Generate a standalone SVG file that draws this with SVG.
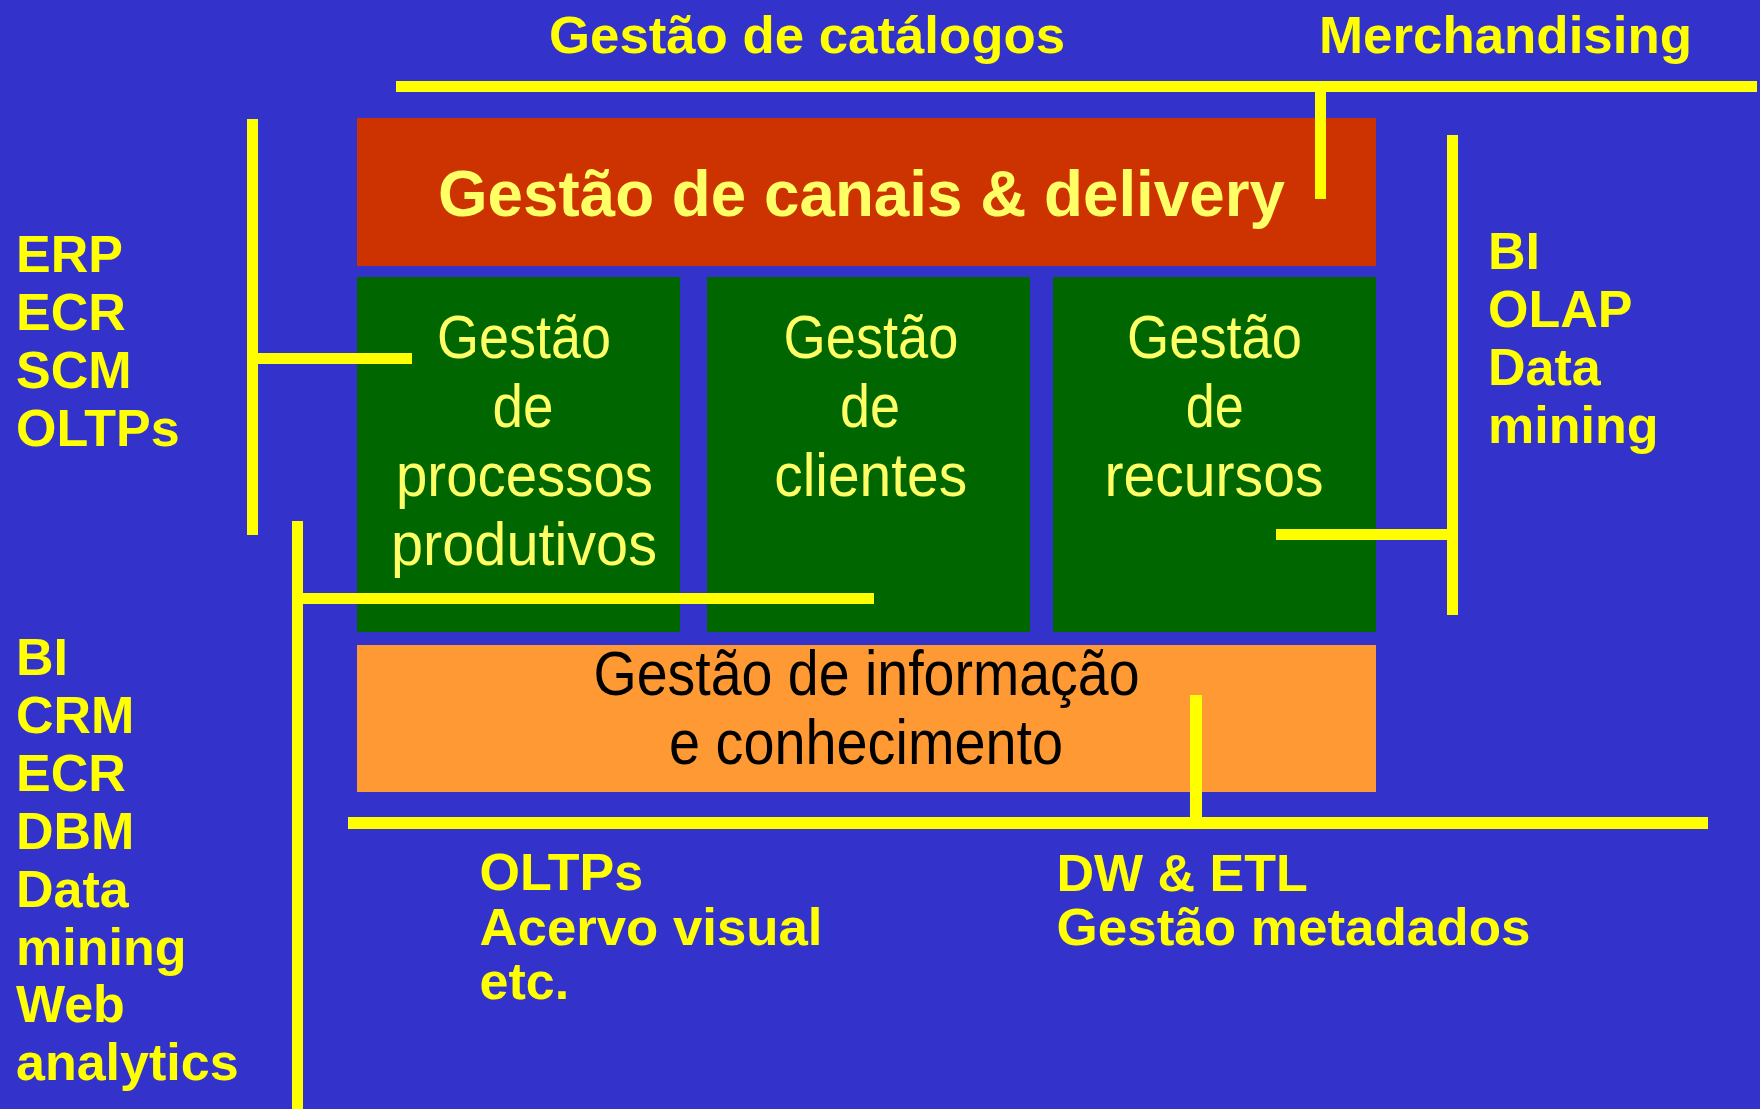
<svg xmlns="http://www.w3.org/2000/svg" width="1760" height="1109" viewBox="0 0 1760 1109">
<style>
.lbl{font-family:"Liberation Sans",Arial,sans-serif;font-weight:bold;font-size:52px;fill:#FFFF00}
.box{font-family:"Liberation Sans",Arial,sans-serif;font-size:62px;fill:#FFFF66;text-anchor:middle}
.info{font-family:"Liberation Sans",Arial,sans-serif;font-size:63px;fill:#000000;text-anchor:middle}
.title{font-family:"Liberation Sans",Arial,sans-serif;font-weight:bold;font-size:64px;fill:#FFFF66}
.conn{stroke:#FFFF00;stroke-width:11;fill:none;stroke-linecap:butt}
</style>
<rect x="0" y="0" width="1760" height="1109" fill="#3333CC"/>

<g id="canais">
<rect x="357" y="118" width="1019" height="148" fill="#CC3300"/>
<text class="title" x="438" y="216" textLength="847" lengthAdjust="spacingAndGlyphs">Gestão de canais &amp; delivery</text>
</g>

<g id="processos">
<rect x="357" y="277" width="323" height="355" fill="#006600"/>
<text class="box" x="524" y="358" textLength="174" lengthAdjust="spacingAndGlyphs">Gestão</text>
<text class="box" x="523" y="427" textLength="61" lengthAdjust="spacingAndGlyphs">de</text>
<text class="box" x="524.5" y="496" textLength="257" lengthAdjust="spacingAndGlyphs">processos</text>
<text class="box" x="524" y="565" textLength="266" lengthAdjust="spacingAndGlyphs">produtivos</text>
</g>

<g id="clientes">
<rect x="707" y="277" width="323" height="355" fill="#006600"/>
<text class="box" x="871" y="358" textLength="175" lengthAdjust="spacingAndGlyphs">Gestão</text>
<text class="box" x="870" y="427" textLength="60" lengthAdjust="spacingAndGlyphs">de</text>
<text class="box" x="870.7" y="496" textLength="193" lengthAdjust="spacingAndGlyphs">clientes</text>
</g>

<g id="recursos">
<rect x="1053" y="277" width="323" height="355" fill="#006600"/>
<text class="box" x="1214.5" y="358" textLength="175" lengthAdjust="spacingAndGlyphs">Gestão</text>
<text class="box" x="1214.7" y="427" textLength="58" lengthAdjust="spacingAndGlyphs">de</text>
<text class="box" x="1214" y="496" textLength="219" lengthAdjust="spacingAndGlyphs">recursos</text>
</g>

<g id="informacao">
<rect x="357" y="645" width="1019" height="147" fill="#FF9933"/>
<text class="info" x="866.5" y="695" textLength="546" lengthAdjust="spacingAndGlyphs">Gestão de informação</text>
<text class="info" x="866" y="763.5" textLength="394" lengthAdjust="spacingAndGlyphs">e conhecimento</text>
</g>

<g id="catalogos">
<text class="lbl" x="549" y="52.5" font-size="53" textLength="516" lengthAdjust="spacingAndGlyphs">Gestão de catálogos</text>
</g>
<g id="merchandising">
<text class="lbl" x="1319" y="52.5" font-size="53" textLength="373" lengthAdjust="spacingAndGlyphs">Merchandising</text>
</g>

<g id="erp">
<text class="lbl" x="16" y="272">ERP</text>
<text class="lbl" x="16" y="330">ECR</text>
<text class="lbl" x="16" y="388">SCM</text>
<text class="lbl" x="16" y="446">OLTPs</text>
</g>

<g id="bi-left">
<text class="lbl" x="16" y="675">BI</text>
<text class="lbl" x="16" y="733">CRM</text>
<text class="lbl" x="16" y="791">ECR</text>
<text class="lbl" x="16" y="849">DBM</text>
<text class="lbl" x="16" y="907">Data</text>
<text class="lbl" x="16" y="965">mining</text>
<text class="lbl" x="16" y="1022">Web</text>
<text class="lbl" x="16" y="1080">analytics</text>
</g>

<g id="bi-right">
<text class="lbl" x="1488" y="269">BI</text>
<text class="lbl" x="1488" y="327">OLAP</text>
<text class="lbl" x="1488" y="385">Data</text>
<text class="lbl" x="1488" y="443">mining</text>
</g>

<g id="oltps">
<text class="lbl" x="479.5" y="890">OLTPs</text>
<text class="lbl" x="479.5" y="944.5" textLength="343" lengthAdjust="spacingAndGlyphs">Acervo visual</text>
<text class="lbl" x="479.5" y="998.5">etc.</text>
</g>

<g id="dw">
<text class="lbl" x="1056.5" y="890.5">DW &amp; ETL</text>
<text class="lbl" x="1056.5" y="944.5" textLength="474" lengthAdjust="spacingAndGlyphs">Gestão metadados</text>
</g>

<g id="connectors">
<path class="conn" d="M396 86.5 H1757"/>
<path class="conn" d="M1320.5 92 V199"/>
<path class="conn" d="M252.5 119 V535"/>
<path class="conn" d="M258 358.5 H412"/>
<path class="conn" d="M297.5 521 V1109"/>
<path class="conn" d="M303 598.5 H874"/>
<path class="conn" d="M1452.5 135 V615"/>
<path class="conn" d="M1276 534.5 H1447"/>
<path class="conn" d="M348 823 H1708" style="stroke-width:12"/>
<path class="conn" d="M1196 695 V817" style="stroke-width:12"/>
</g>
</svg>
